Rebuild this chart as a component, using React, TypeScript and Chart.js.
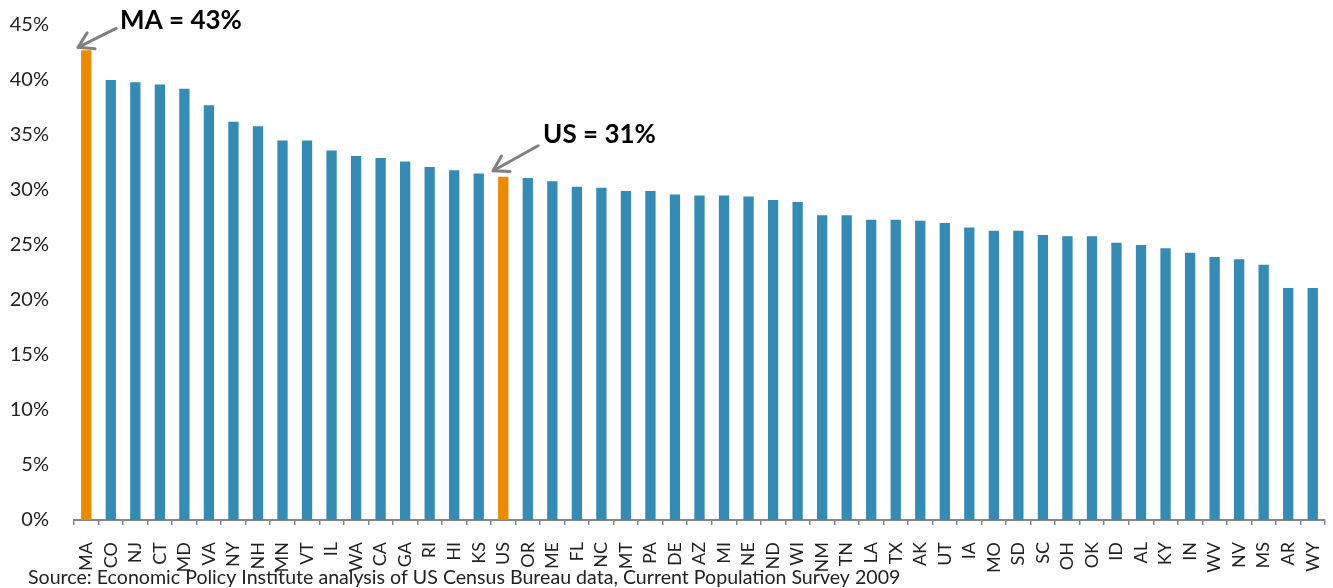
import React, { useEffect, useRef } from "react";
import { Chart, registerables } from "chart.js";

Chart.register(...registerables);

const states = [
  "MA", "CO", "NJ", "CT", "MD", "VA", "NY", "NH", "MN", "VT", "IL", "WA", "CA",
  "GA", "RI", "HI", "KS", "US", "OR", "ME", "FL", "NC", "MT", "PA", "DE", "AZ",
  "MI", "NE", "ND", "WI", "NM", "TN", "LA", "TX", "AK", "UT", "IA", "MO", "SD",
  "SC", "OH", "OK", "ID", "AL", "KY", "IN", "WV", "NV", "MS", "AR", "WY",
];

const shares = [
  42.7, 40.0, 39.8, 39.6, 39.2, 37.7, 36.2, 35.8, 34.5, 34.5, 33.6, 33.1, 32.9,
  32.6, 32.1, 31.8, 31.5, 31.2, 31.1, 30.8, 30.3, 30.2, 29.9, 29.9, 29.6, 29.5,
  29.5, 29.4, 29.1, 28.9, 27.7, 27.7, 27.3, 27.3, 27.2, 27.0, 26.6, 26.3, 26.3,
  25.9, 25.8, 25.8, 25.2, 25.0, 24.7, 24.3, 23.9, 23.7, 23.2, 21.1, 21.1,
];

const highlighted = ["MA", "US"];
const annotationStates = ["MA", "US"];
const annotationTexts = ["MA = 43%", "US = 31%"];
const yMin = 0;
const yMax = 45;
const yStep = 5;
const sourceText =
  "Source: Economic Policy Institute analysis of US Census Bureau data, Current Population Survey 2009";

const FONT = "Lato, Carlito, Calibri, 'Open Sans', sans-serif";
const BLUE = "#358bb3";
const ORANGE = "#e98a00";
const AXIS_GRAY = "#868686";
const ARROW_GRAY = "#808080";

// callout geometry relative to the bar's top-left corner (layout, not data)
const calloutLayout: Record<string, { tip: number[]; tail: number[]; text: number[] }> = {
  MA: { tip: [-3, -3], tail: [35, -22], text: [39, -27.5] },
  US: { tip: [-5, -6], tail: [40, -31], text: [45, -39.5] },
};

const overlayPlugin = {
  id: "overlay",
  afterDraw(chart: any) {
    const ctx = chart.ctx as CanvasRenderingContext2D;
    const meta = chart.getDatasetMeta(0);
    ctx.save();
    annotationStates.forEach((st, k) => {
      const idx = states.indexOf(st);
      const bar = meta.data[idx];
      if (!bar) return;
      const lay = calloutLayout[st];
      const p = bar.getProps(["x", "y", "width"], true);
      const left = p.x - p.width / 2;
      const top = p.y;
      const tipX = left + lay.tip[0];
      const tipY = top + lay.tip[1];
      const tailX = left + lay.tail[0];
      const tailY = top + lay.tail[1];
      ctx.strokeStyle = ARROW_GRAY;
      ctx.lineWidth = 3;
      ctx.lineCap = "round";
      ctx.lineJoin = "round";
      ctx.beginPath();
      ctx.moveTo(tailX, tailY);
      ctx.lineTo(tipX, tipY);
      ctx.stroke();
      const ang = Math.atan2(tailY - tipY, tailX - tipX);
      const len = 17;
      const spread = 0.55;
      ctx.beginPath();
      ctx.moveTo(tipX + len * Math.cos(ang - spread), tipY + len * Math.sin(ang - spread));
      ctx.lineTo(tipX, tipY);
      ctx.lineTo(tipX + len * Math.cos(ang + spread), tipY + len * Math.sin(ang + spread));
      ctx.stroke();
      ctx.fillStyle = "#000";
      ctx.font = `bold 26px ${FONT}`;
      ctx.textAlign = "left";
      ctx.textBaseline = "middle";
      ctx.fillText(annotationTexts[k], left + lay.text[0], top + lay.text[1] - 2.5);
    });
    ctx.fillStyle = "#222";
    ctx.font = `19.6px ${FONT}`;
    ctx.textAlign = "left";
    ctx.textBaseline = "alphabetic";
    ctx.fillText(sourceText, 28, 584);
    ctx.restore();
  },
};

export default function App() {
  const canvasRef = useRef<HTMLCanvasElement | null>(null);

  useEffect(() => {
    const canvas = canvasRef.current;
    if (!canvas) return;
    const colors = states.map((s) => (highlighted.includes(s) ? ORANGE : BLUE));
    const chart = new Chart(canvas, {
      type: "bar",
      data: {
        labels: states,
        datasets: [
          {
            data: shares,
            backgroundColor: colors,
            borderWidth: 0,
            categoryPercentage: 1,
            barPercentage: 0.42,
          },
        ],
      },
      options: {
        animation: false,
        responsive: false,
        maintainAspectRatio: false,
        layout: { padding: { top: 25, right: 8, left: 0, bottom: 0 } },
        plugins: {
          legend: { display: false },
          tooltip: { enabled: false },
          title: { display: false },
        },
        scales: {
          x: {
            grid: {
              display: true,
              drawOnChartArea: false,
              drawTicks: true,
              tickLength: 5,
              color: AXIS_GRAY,
              lineWidth: 1.5,
            },
            border: { display: true, color: AXIS_GRAY, width: 2 },
            ticks: {
              autoSkip: false,
              maxRotation: 90,
              minRotation: 90,
              padding: 17,
              color: "#222",
              font: { family: FONT, size: 18 },
            },
            afterFit(scale: any) {
              scale.height = 68;
              scale.paddingLeft = 0;
              scale.paddingRight = 0;
            },
          },
          y: {
            min: yMin,
            max: yMax,
            grid: { display: false, drawTicks: false },
            border: { display: false },
            ticks: {
              stepSize: yStep,
              padding: 25,
              color: "#222",
              font: { family: FONT, size: 20 },
              callback: (v: any) => `${v}%`,
            },
            afterFit(scale: any) {
              scale.width = 74;
              scale.paddingTop = 0;
              scale.paddingBottom = 0;
            },
          },
        },
      },
      plugins: [overlayPlugin],
    });
    return () => chart.destroy();
  }, []);

  return (
    <div style={{ position: "fixed", left: 0, top: 0, width: 1333, height: 588, background: "#fff" }}>
      <canvas ref={canvasRef} width={1333} height={588} style={{ display: "block" }} />
    </div>
  );
}
